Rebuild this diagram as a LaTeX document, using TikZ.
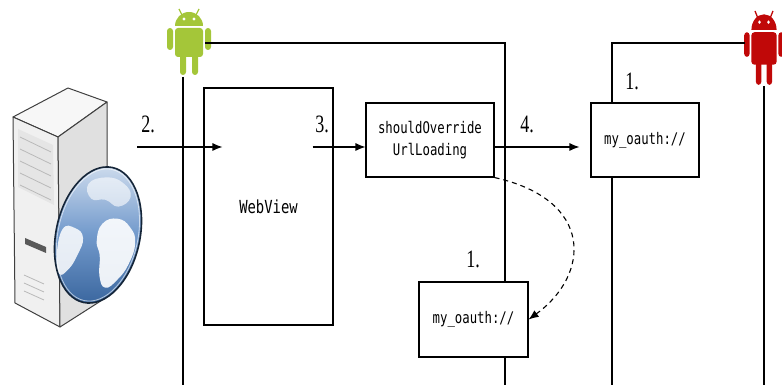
\documentclass[tikz,border=0pt]{standalone}
\usepackage{fontspec}
\setmainfont{Liberation Serif}[FakeStretch=0.72]
\setmonofont{DejaVu Sans Mono}[FakeStretch=0.77]
\usetikzlibrary{arrows.meta}

\definecolor{droidgreen}{RGB}{164,198,57}
\definecolor{droidred}{RGB}{192,8,8}
\definecolor{globeblue}{RGB}{70,122,188}

% little android robot, origin at the base of the head
\tikzset{
  droid/.pic={
    \fill (-14,0) arc (180:0:14) -- cycle;
    \draw[line width=1.3pt] (-7,11) -- (-10,17) (7,11) -- (10,17);
    \fill[white] (-5,7) circle (1.6) (5,7) circle (1.6);
    \fill[rounded corners=3pt] (-14,-2) rectangle (14,-31);
    \fill[rounded corners=3pt] (-22,-2) rectangle (-16,-24) (16,-2) rectangle (22,-24);
    \fill[rounded corners=3pt] (-9,-25) rectangle (-3,-49) (3,-25) rectangle (9,-49);
  }
}

\begin{document}
\begin{tikzpicture}[x=1pt, y=1pt,
    box/.style={draw, line width=1.1pt, fill=white, inner sep=0pt},
    wire/.style={line width=1.1pt},
    flow/.style={wire, -{Latex[length=10pt,width=8pt]}},
    num/.style={font=\fontsize{25}{28}\selectfont},
    code/.style={font=\ttfamily\fontsize{16}{22}\selectfont}]

  \useasboundingbox (0,0) rectangle (782,385);

  % server
  \begin{scope}[draw=black!75, line width=1pt, line join=round]
    \filldraw[fill=gray!6] (13,268) -- (68,297) -- (107,283) -- (58,248) -- cycle;
    \filldraw[fill=gray!12] (13,268) -- (58,248) -- (60,58) -- (15,82) -- cycle;
    \filldraw[fill=gray!24] (58,248) -- (107,283) -- (107,88) -- (60,58) -- cycle;
    \fill[gray!20] (18,256) -- (53,240) -- (54,180) -- (18,198) -- cycle;
    \foreach \k in {0,...,4}
      \draw[gray!55, line width=0.8pt] (20,248-\k*12) -- (51,233-\k*12);
    \fill[black!65] (25,147) -- (46,138) -- (46,132) -- (25,141) -- cycle;
    \foreach \k in {0,...,2}
      \draw[gray!55, line width=0.8pt] (24,110-\k*8) -- (44,101-\k*8);
  \end{scope}

  % globe
  \begin{scope}[shift={(98,150)}, rotate=-12]
    \shade[top color=globeblue!25!white, bottom color=globeblue!85!black, middle color=globeblue!75!white]
      (0,0) ellipse (42 and 69);
    \fill[white, opacity=0.9] plot[smooth cycle, tension=0.8] coordinates
      {(2,12) (16,20) (30,14) (38,0) (36,-22) (28,-40) (18,-50) (10,-40) (6,-20) (0,-6)};
    \fill[white, opacity=0.85] plot[smooth cycle, tension=0.8] coordinates
      {(-36,-2) (-24,2) (-14,-6) (-16,-24) (-22,-40) (-30,-46) (-36,-30)};
    \fill[white, opacity=0.6] plot[smooth cycle, tension=0.8] coordinates
      {(-20,48) (-4,58) (14,56) (24,44) (14,32) (0,36) (-14,34)};
    \draw[globeblue!30!black, line width=1.6pt] (0,0) ellipse (42 and 69);
    \draw[white, opacity=0.6, line width=0.8pt] (0,0) ellipse (40 and 67);
  \end{scope}

  % phones
  \pic[droidgreen] (gd) at (189,359) {droid};
  \pic[droidred, xscale=0.9, yscale=1.12] (rd) at (764,355) {droid};

  \coordinate (gfoot) at (183,308);
  \coordinate (garm) at (205,342);
  \coordinate (gcorner) at (505,342);
  \coordinate (rarm) at (745,342);
  \coordinate (rcorner) at (612,342);
  \coordinate (rfoot) at (764,299);

  \draw[wire] (gfoot) -- (gfoot |- 0,0);
  \draw[wire] (garm) -- (gcorner) -- (gcorner |- 0,0);
  \draw[wire] (rarm) -- (rcorner) -- (rcorner |- 0,0);
  \draw[wire] (rfoot) -- (rfoot |- 0,0);

  % boxes
  \node[box, minimum width=129pt, minimum height=237pt,
        font=\ttfamily\fontsize{18}{22}\selectfont] (wv) at (268.5,178.5) {WebView};
  \node[box, code, align=center, minimum width=128pt, minimum height=74pt] (sou) at (430,245)
    {shouldOverride\\UrlLoading};
  \node[box, code, minimum width=108pt, minimum height=74pt] (cbr) at (645,245) {my\_oauth://};
  \node[box, code, minimum width=109pt, minimum height=75pt] (cbg) at (473.5,65.5) {my\_oauth://};

  % flow
  \coordinate (src) at (137,238);
  \draw[flow] (src) -- ([xshift=19pt]wv.west |- src);
  \draw[flow] ([xshift=-21pt]wv.east |- src) -- (sou.west |- src);
  \draw[flow] (sou.east |- src) -- ([xshift=-11pt]cbr.west |- src);
  \draw[wire, dash pattern=on 5pt off 4pt, -{Latex[length=10pt,width=8pt]}]
    (sou.south east) .. controls (595,185) and (590,110) .. (cbg.east);

  % step numbers
  \node[num] (n2) at (148,261) {2.};
  \node[num] (n3) at (322,261) {3.};
  \node[num] (n4) at (527,261) {4.};
  \node[num] (n1r) at (632,304) {1.};
  \node[num] (n1g) at (473,126) {1.};
\end{tikzpicture}
\end{document}
